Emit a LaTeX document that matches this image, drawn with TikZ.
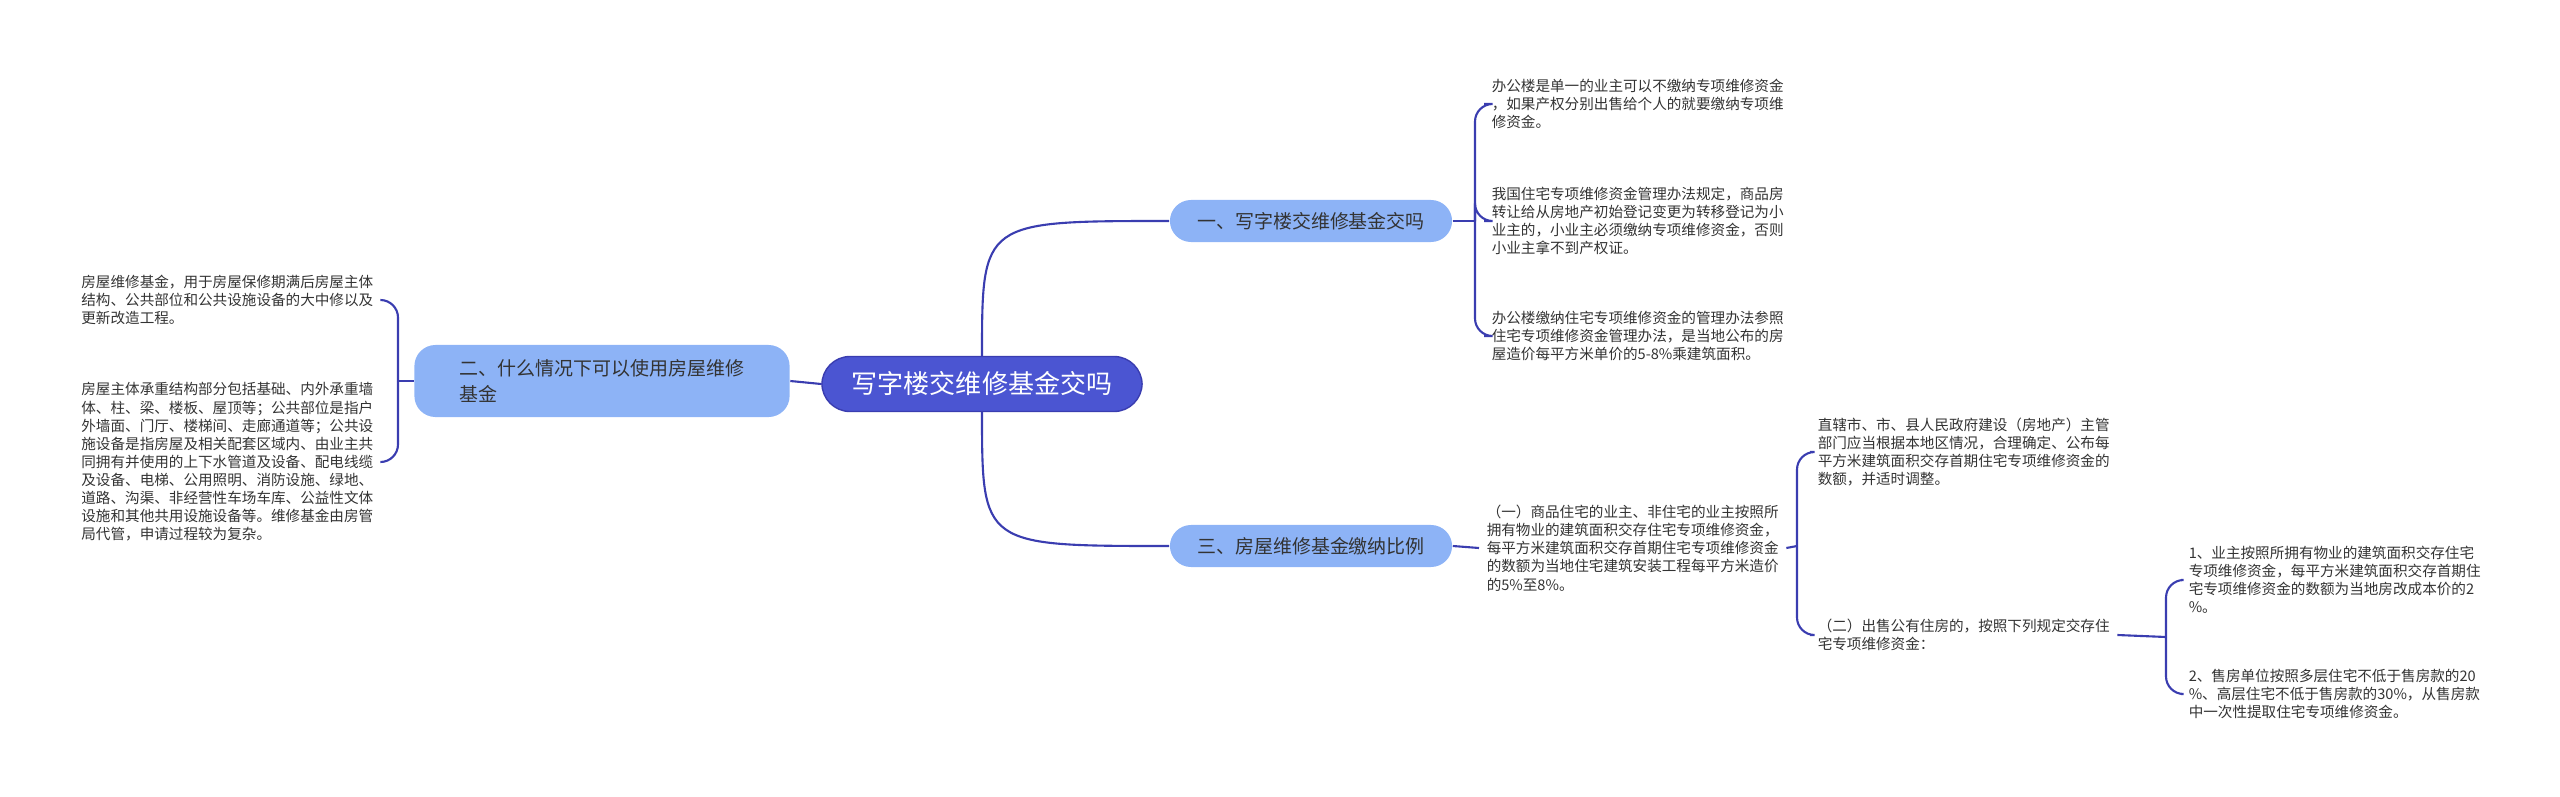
\documentclass[tikz,border=0pt]{standalone}
\usepackage{fontspec}
\setmainfont{Noto Sans CJK SC}
\usetikzlibrary{positioning}
\definecolor{linkc}{HTML}{3A3DB0}
\definecolor{rootc}{HTML}{4B55D2}
\definecolor{subc}{HTML}{8DB3F6}
\definecolor{txtc}{HTML}{333333}
\tikzset{
  link/.style = {draw=linkc, line width=0.6pt, rounded corners=5pt},
  rootbox/.style = {fill=rootc, draw=linkc, text=white, rounded corners=8pt, minimum width=3.2cm, minimum height=0.55cm, font=\fontsize{7.4}{9}\selectfont},
  subbox/.style = {fill=subc, text=txtc, rounded corners=6pt, minimum height=0.42cm, align=left, font=\fontsize{5.4}{7.6}\selectfont},
  leaf/.style = {text=txtc, align=left, inner sep=2pt, font=\fontsize{4.15}{5.15}\selectfont}
}
\begin{document}
\begin{tikzpicture}[x=0.01cm, y=-0.01cm]
    \useasboundingbox (0,0) rectangle (2560,797);
    % central node and branches
    \node[rootbox] (root) at (982,384) {写字楼交维修基金交吗};
    \node[subbox, minimum width=2.82cm] (b1) at (1311,221) {一、写字楼交维修基金交吗};
    \node[subbox, minimum width=3.75cm, minimum height=0.72cm] (b2) at (602,381) {二、什么情况下可以使用房屋维修\\基金};
    \node[subbox, minimum width=2.82cm] (b3) at (1311,546) {三、房屋维修基金缴纳比例};
    \draw[link] (root.north) .. controls (982,221) .. (b1.west);
    \draw[link] (root.south) .. controls (982,546) .. (b3.west);
    \draw[link] (root.west) -- (b2.east);
    % leaves of the first branch
    \node[leaf, anchor=west] (l1a) at (1484,104) {办公楼是单一的业主可以不缴纳专项维修资金\\，如果产权分别出售给个人的就要缴纳专项维\\修资金。};
    \node[leaf, anchor=west] (l1b) at (1484,221) {我国住宅专项维修资金管理办法规定，商品房\\转让给从房地产初始登记变更为转移登记为小\\业主的，小业主必须缴纳专项维修资金，否则\\小业主拿不到产权证。};
    \node[leaf, anchor=west] (l1c) at (1484,336) {办公楼缴纳住宅专项维修资金的管理办法参照\\住宅专项维修资金管理办法，是当地公布的房\\屋造价每平方米单价的5-8\%乘建筑面积。};
    \coordinate (k1) at (1475,221);
    \draw[link] (b1.east) -- (k1);
    \foreach \n in {l1a,l1b,l1c} \draw[link] (k1) |- (\n.west);
    % leaves of the second branch
    \node[leaf, anchor=east] (l2a) at (381,300) {房屋维修基金，用于房屋保修期满后房屋主体\\结构、公共部位和公共设施设备的大中修以及\\更新改造工程。};
    \node[leaf, anchor=east] (l2b) at (381,462) {房屋主体承重结构部分包括基础、内外承重墙\\体、柱、梁、楼板、屋顶等；公共部位是指户\\外墙面、门厅、楼梯间、走廊通道等；公共设\\施设备是指房屋及相关配套区域内、由业主共\\同拥有并使用的上下水管道及设备、配电线缆\\及设备、电梯、公用照明、消防设施、绿地、\\道路、沟渠、非经营性车场车库、公益性文体\\设施和其他共用设施设备等。维修基金由房管\\局代管，申请过程较为复杂。};
    \coordinate (k2) at (398,381);
    \draw[link] (b2.west) -- (k2);
    \foreach \n in {l2a,l2b} \draw[link] (k2) |- (\n.east);
    % leaves of the third branch
    \node[leaf, anchor=west] (l3) at (1479,548) {（一）商品住宅的业主、非住宅的业主按照所\\拥有物业的建筑面积交存住宅专项维修资金，\\每平方米建筑面积交存首期住宅专项维修资金\\的数额为当地住宅建筑安装工程每平方米造价\\的5\%至8\%。};
    \draw[link] (b3.east) -- (l3.west);
    \node[leaf, anchor=west] (l3a) at (1810,452) {直辖市、市、县人民政府建设（房地产）主管\\部门应当根据本地区情况，合理确定、公布每\\平方米建筑面积交存首期住宅专项维修资金的\\数额，并适时调整。};
    \node[leaf, anchor=west] (l3b) at (1810,635) {（二）出售公有住房的，按照下列规定交存住\\宅专项维修资金：};
    \coordinate (k3) at (1797,546);
    \draw[link] (l3.east) -- (k3);
    \foreach \n in {l3a,l3b} \draw[link] (k3) |- (\n.west);
    \node[leaf, anchor=west] (l3c) at (2181,580) {1、业主按照所拥有物业的建筑面积交存住宅\\专项维修资金，每平方米建筑面积交存首期住\\宅专项维修资金的数额为当地房改成本价的2\\\%。};
    \node[leaf, anchor=west] (l3d) at (2181,694) {2、售房单位按照多层住宅不低于售房款的20\\\%、高层住宅不低于售房款的30\%，从售房款\\中一次性提取住宅专项维修资金。};
    \coordinate (k4) at (2166,637);
    \draw[link] (l3b.east) -- (k4);
    \foreach \n in {l3c,l3d} \draw[link] (k4) |- (\n.west);
\end{tikzpicture}
\end{document}
